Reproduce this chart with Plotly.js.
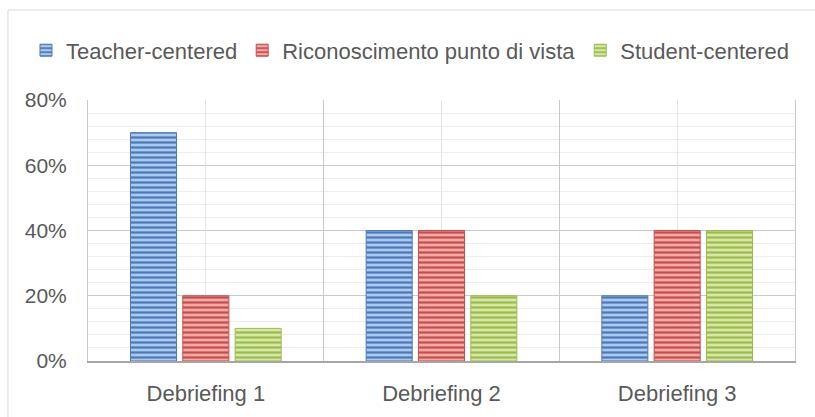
<!DOCTYPE html>
<html>
<head>
<meta charset="utf-8">
<script src="https://cdn.plot.ly/plotly-3.0.1.min.js"></script>
<style>
  html, body { margin: 0; padding: 0; background: #ffffff; }
  #chart { width: 815px; height: 417px; }
</style>
</head>
<body>
<div id="chart"></div>
<script>
// ---- Data ----
const categories = ['Debriefing 1', 'Debriefing 2', 'Debriefing 3'];
const seriesNames = ['Teacher-centered', 'Riconoscimento punto di vista', 'Student-centered'];
const teacherCentered = [0.70, 0.40, 0.20];
const riconoscimento = [0.20, 0.40, 0.40];
const studentCentered = [0.10, 0.20, 0.40];
const yTickVals = [0, 0.2, 0.4, 0.6, 0.8];

// ---- Styles ----
const darkColors = ['#4F78B8', '#C4504E', '#9BBB52'];
const lightColors = ['#AACBF0', '#F5AAA8', '#D8E8A2'];
const textColor = '#595959';
const fontFamily = '"Liberation Sans", Arial, sans-serif';

const values = [teacherCentered, riconoscimento, studentCentered];
const traces = values.map((vals, i) => ({
  type: 'bar',
  name: seriesNames[i],
  x: categories,
  y: vals,
  marker: {
    color: lightColors[i],
    line: { color: darkColors[i], width: 1 },
    pattern: {
      shape: '-',
      fgcolor: darkColors[i],
      bgcolor: lightColors[i],
      size: 5,
      solidity: 0.45
    }
  },
  hoverinfo: 'x+y+name'
}));

// invisible helper trace so the overlaid linear axis (category-centre gridlines) is drawn
traces.push({
  type: 'scatter',
  mode: 'none',
  x: categories.map((c, i) => i),
  y: teacherCentered,
  xaxis: 'x2',
  yaxis: 'y',
  showlegend: false,
  hoverinfo: 'skip'
});

const layout = {
  width: 815,
  height: 417,
  margin: { l: 88, r: 20, t: 100, b: 56, pad: 0 },
  paper_bgcolor: '#ffffff',
  plot_bgcolor: '#ffffff',
  font: { family: fontFamily, size: 21, color: textColor },
  barmode: 'group',
  bargap: 0.334,
  bargroupgap: 0.12,
  showlegend: true,
  legend: {
    orientation: 'h',
    xref: 'paper',
    yref: 'paper',
    x: -0.0877,
    xanchor: 'left',
    y: 1.19,
    yanchor: 'middle',
    font: { family: fontFamily, size: 22, color: textColor },
    bgcolor: 'rgba(0,0,0,0)',
    traceorder: 'normal'
  },
  xaxis: {
    type: 'category',
    tickson: 'boundaries',
    showgrid: true,
    gridcolor: '#C9C9C9',
    gridwidth: 1,
    ticks: '',
    showline: true,
    linecolor: '#A6A6A6',
    linewidth: 2,
    zeroline: false,
    ticklabelstandoff: 12,
    tickfont: { family: fontFamily, size: 22, color: textColor },
    fixedrange: true
  },
  xaxis2: {
    type: 'linear',
    overlaying: 'x',
    anchor: 'y',
    range: [-0.5, 2.5],
    tick0: 0,
    dtick: 1,
    showgrid: true,
    gridcolor: '#E4E4E4',
    gridwidth: 1,
    showticklabels: false,
    ticks: '',
    showline: false,
    zeroline: false,
    fixedrange: true
  },
  yaxis: {
    range: [0, 0.8],
    tickmode: 'array',
    tickvals: yTickVals,
    tickformat: '.0%',
    showgrid: true,
    gridcolor: '#C9C9C9',
    gridwidth: 1,
    minor: { dtick: 0.04, showgrid: true, gridcolor: '#EDEDED', gridwidth: 1, ticks: '' },
    showline: true,
    mirror: true,
    linecolor: '#C9C9C9',
    linewidth: 1,
    zeroline: false,
    ticks: '',
    ticklabelstandoff: 16,
    tickfont: { family: fontFamily, size: 21, color: textColor },
    fixedrange: true
  },
  shapes: [{
    type: 'rect',
    xref: 'paper', yref: 'paper',
    x0: -0.1132, x1: 1.2,
    y0: -0.4, y1: 1.3448,
    line: { color: '#D9D9D9', width: 1 },
    fillcolor: 'rgba(0,0,0,0)',
    layer: 'below'
  }]
};

Plotly.newPlot('chart', traces, layout, { displayModeBar: false, staticPlot: true });
</script>
</body>
</html>
